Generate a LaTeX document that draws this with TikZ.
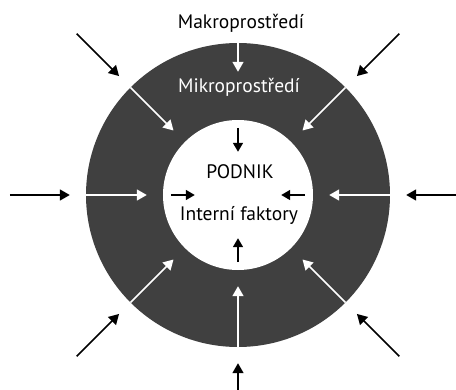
\documentclass[tikz,border=0pt]{standalone}
\usepackage{fontspec}
\setmainfont{PT Sans}
\usetikzlibrary{arrows.meta,calc}
\definecolor{ringgray}{HTML}{404040}
\tikzset{
      envring/.style={
        circle,
        fill=ringgray,
        minimum size=304pt,
        inner sep=0pt
      },
      firmcore/.style={
        circle,
        fill=white,
        minimum size=150pt,
        inner sep=0pt
      },
      outarrow/.style={-{Triangle[length=10pt,width=11pt]}, line width=1.6pt, black},
      ringarrow/.style={-{Triangle[length=10pt,width=11pt]}, line width=1.6pt, white},
      corearrow/.style={-{Triangle[length=9pt,width=10pt]}, line width=1.6pt, black},
      envtext/.style={font=\fontsize{19.5}{22}\selectfont, inner sep=0pt}
    }

\begin{document}
\begin{tikzpicture}[x=1pt,y=1pt]
    \useasboundingbox (-238,-194) rectangle (218,195);
    \node[envring] (ring) at (0,0) {};
    \node[firmcore] (core) at (0,0) {};
    \node[envtext] (makro) at (3,172) {Makroprostředí};
    \node[envtext, text=white] (mikro) at (1,108) {Mikroprostředí};
    \node[envtext] (podnik) at (2,23) {PODNIK};
    \node[envtext] (interni) at (1,-20) {Interní faktory};
    % makroprostredi -> ring
    \draw[outarrow] ($(ring.135)!-76pt!(ring.center)$) -- ($(ring.135)!-16pt!(ring.center)$);
    \draw[outarrow] ($(ring.45)!-76pt!(ring.center)$) -- ($(ring.45)!-16pt!(ring.center)$);
    \draw[outarrow] ($(ring.180)!-76pt!(ring.center)$) -- ($(ring.180)!-16pt!(ring.center)$);
    \draw[outarrow] ($(ring.0)!-76pt!(ring.center)$) -- ($(ring.0)!-16pt!(ring.center)$);
    \draw[outarrow] ($(ring.225)!-76pt!(ring.center)$) -- ($(ring.225)!-16pt!(ring.center)$);
    \draw[outarrow] ($(ring.315)!-76pt!(ring.center)$) -- ($(ring.315)!-16pt!(ring.center)$);
    \draw[outarrow] ($(ring.270)!-76pt!(ring.center)$) -- ($(ring.270)!-16pt!(ring.center)$);
    % mikroprostredi -> podnik
    \draw[ringarrow] (ring.90) -- ($(ring.90)!29pt!(ring.center)$);
    \draw[ringarrow] (ring.135) -- ($(core.135)!-16pt!(core.center)$);
    \draw[ringarrow] (ring.45) -- ($(core.45)!-16pt!(core.center)$);
    \draw[ringarrow] (ring.180) -- ($(core.180)!-16pt!(core.center)$);
    \draw[ringarrow] (ring.0) -- ($(core.0)!-16pt!(core.center)$);
    \draw[ringarrow] (ring.225) -- ($(core.225)!-16pt!(core.center)$);
    \draw[ringarrow] (ring.315) -- ($(core.315)!-16pt!(core.center)$);
    \draw[ringarrow] (ring.270) -- ($(core.270)!-16pt!(core.center)$);
    % interni faktory
    \draw[corearrow] ($(core.90)!8pt!(core.center)$) -- ($(core.90)!32pt!(core.center)$);
    \draw[corearrow] ($(core.180)!8pt!(core.center)$) -- ($(core.180)!32pt!(core.center)$);
    \draw[corearrow] ($(core.0)!8pt!(core.center)$) -- ($(core.0)!32pt!(core.center)$);
    \draw[corearrow] ($(core.270)!8pt!(core.center)$) -- ($(core.270)!32pt!(core.center)$);
\end{tikzpicture}
\end{document}
